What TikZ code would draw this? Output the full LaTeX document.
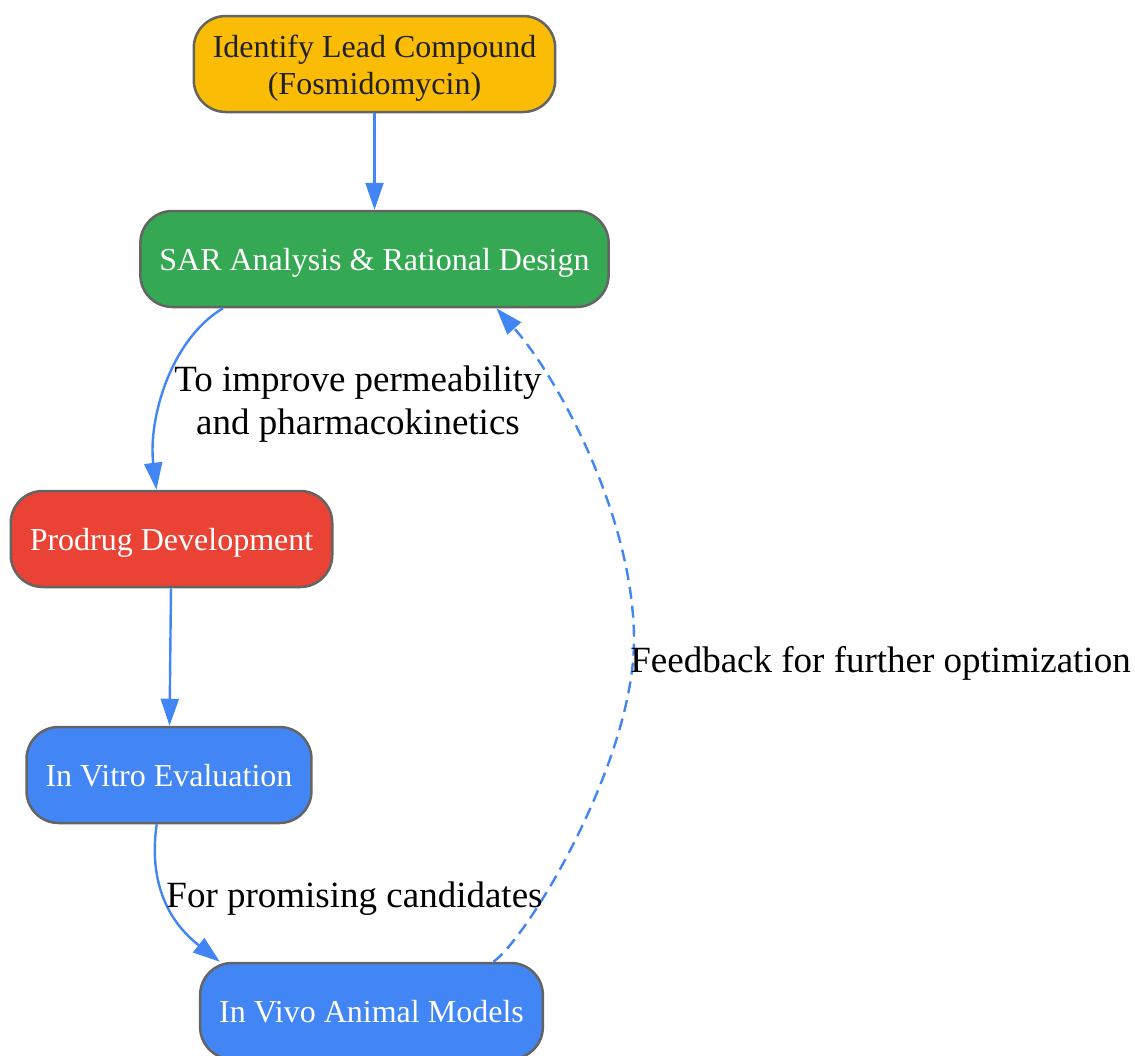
\documentclass[tikz,border=0pt]{standalone}
\usepackage{fontspec}
\setmainfont{Liberation Serif}
\usetikzlibrary{arrows.meta}
\definecolor{gyellow}{HTML}{FBBC05}
\definecolor{ggreen}{HTML}{34A853}
\definecolor{gred}{HTML}{EA4335}
\definecolor{gblue}{HTML}{4285F4}
\definecolor{gborder}{HTML}{646464}
\definecolor{gdark}{HTML}{202124}
\tikzset{box/.style={rectangle,rounded corners=32pt,draw=gborder,line width=2.5pt,minimum height=96pt,inner xsep=19pt,text height=30pt,text depth=7pt,text=white,align=center,font=\fontsize{32}{37}\selectfont}}
\tikzset{
flow/.style={draw=gblue,line width=2.4pt,-{Triangle[length=27pt,width=18pt]}},
lbl/.style={align=center,font=\fontsize{37}{43}\selectfont}
}

\begin{document}
\begin{tikzpicture}[x=1pt,y=-1pt]
\useasboundingbox (0,0) rectangle (1135,1055);

\node[box,fill=gyellow,text=gdark,text height=67pt] (lead) at (374.5,64) {Identify Lead Compound\\(Fosmidomycin)};
\node[box,fill=ggreen] (sar) at (374.5,259) {SAR Analysis \& Rational Design};
\node[box,fill=gred] (prodrug) at (171.5,539) {Prodrug Development};
\node[box,fill=gblue] (vitro) at (169,775) {In Vitro Evaluation};
\node[box,fill=gblue] (vivo) at (371.5,1011) {In Vivo Animal Models};

 \draw[flow] (lead) -- (sar);
 \draw[flow] (sar.198) .. controls (170,340) and (148,420) .. (prodrug.107);
 \draw[flow] (prodrug) -- (vitro);
 \draw[flow] (vitro.256) .. controls (150,870) and (160,915) .. (vivo.162);
 \draw[flow,dash pattern=on 12pt off 7pt] (vivo.22) .. controls (530,935) and (634,760) .. (634,640)
   .. controls (634,520) and (560,380) .. (sar.-22);

 \node[lbl] (why) at (358,404.5) {To improve permeability\\and pharmacokinetics};
 \node[lbl] (promising) at (354.5,899) {For promising candidates};
 \node[lbl] (feedback) at (880.5,663.5) {Feedback for further optimization};

\end{tikzpicture}
\end{document}
